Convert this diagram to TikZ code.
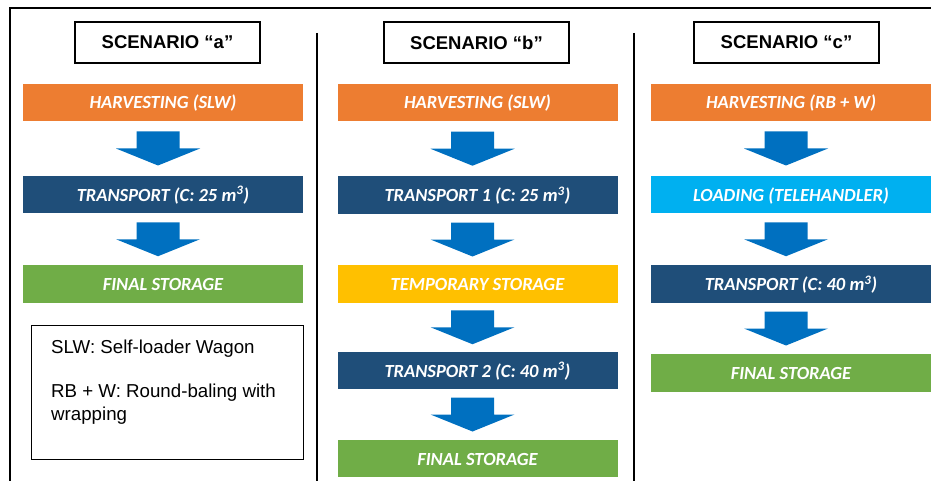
\documentclass[tikz,border=0pt]{standalone}
\usepackage{fontspec}
\setmainfont{Liberation Sans}
\newfontfamily\calibrifont{Carlito}
\usetikzlibrary{calc}

\definecolor{harvestorange}{HTML}{ED7D31}
\definecolor{transportblue}{HTML}{1F4E79}
\definecolor{storagegreen}{HTML}{70AD47}
\definecolor{tempyellow}{HTML}{FFC000}
\definecolor{loadcyan}{HTML}{00B0F0}
\definecolor{arrowblue}{HTML}{0070C0}

\tikzset{
	stage/.style={minimum width=280pt,minimum height=37.5pt,inner sep=0pt,text=white,
		text height=13pt,text depth=0pt,
		font=\calibrifont\bfseries\itshape\fontsize{18.5}{22}\selectfont},
	headbox/.style={draw,line width=1.2pt,minimum width=185pt,minimum height=41pt,inner sep=0pt,
		font=\bfseries\fontsize{18.5}{22}\selectfont},
}

\begin{document}
\begin{tikzpicture}[x=1pt,y=-1pt]
				\useasboundingbox (0,0) rectangle (931,481);
				
				% Frame
				\draw[line width=1.8pt] (10,481)--(10,8)--(931,8);
				\draw[line width=1.5pt] (317,33)--(317,481);
				\draw[line width=1.5pt] (634,33)--(634,481);
				
				% Headers
				\node[headbox] (ha) at (167.5,42.5) {SCENARIO “a”};
				\node[headbox] (hb) at (476.5,42.5) {SCENARIO “b”};
				\node[headbox] (hc) at (786.5,42.5) {SCENARIO “c”};
				
				% Scenario a
				\node[stage,fill=harvestorange] (a1) at (163,102.5) {HARVESTING (SLW)};
				\node[stage,fill=transportblue] (a2) at (163,194.5) {TRANSPORT (C: 25 m\textsuperscript{3})};
				\node[stage,fill=storagegreen] (a3) at (163,284) {FINAL STORAGE};
				
				% Scenario b
				\node[stage,fill=harvestorange] (b1) at (477.5,102.5) {HARVESTING (SLW)};
				\node[stage,fill=transportblue] (b2) at (477.5,195) {TRANSPORT 1 (C: 25 m\textsuperscript{3})};
				\node[stage,fill=tempyellow] (b3) at (477.5,284) {TEMPORARY STORAGE};
				\node[stage,fill=transportblue] (b4) at (477.5,370.5) {TRANSPORT 2 (C: 40 m\textsuperscript{3})};
				\node[stage,fill=storagegreen] (b5) at (477.5,458.5) {FINAL STORAGE};
				
				% Scenario c
				\node[stage,fill=harvestorange] (c1) at (791,102.5) {HARVESTING (RB + W)};
				\node[stage,fill=loadcyan] (c2) at (791,194.5) {LOADING (TELEHANDLER)};
				\node[stage,fill=transportblue] (c3) at (791,284) {TRANSPORT (C: 40 m\textsuperscript{3})};
				\node[stage,fill=storagegreen] (c4) at (791,373) {FINAL STORAGE};
				
				% Block arrows
				\foreach \x/\y in {a1/a2,a2/a3,b1/b2,b2/b3,b3/b4,b4/b5,c1/c2,c2/c3,c3/c4}
				\fill[arrowblue,shift={($(\x.south)!0.5!(\y.north)$)}]
				(-26.5pt,17pt)--(16.5pt,17pt)--(16.5pt,0pt)--(37pt,0pt)
				--(-5pt,-17pt)--(-47pt,0pt)--(-26.5pt,0pt)--cycle;
				
				% Legend
				\node[draw,line width=1.2pt,minimum width=272pt,minimum height=134pt,inner sep=0pt,
					anchor=north west] (legend) at (31,325) {};
				\node[anchor=north west,align=left,inner sep=0pt,
					font=\fontsize{18.7}{23}\selectfont] (legendtext) at (51,339.5)
					{SLW: Self-loader Wagon\\[21pt]RB + W: Round-baling with\\wrapping};
\end{tikzpicture}
\end{document}
